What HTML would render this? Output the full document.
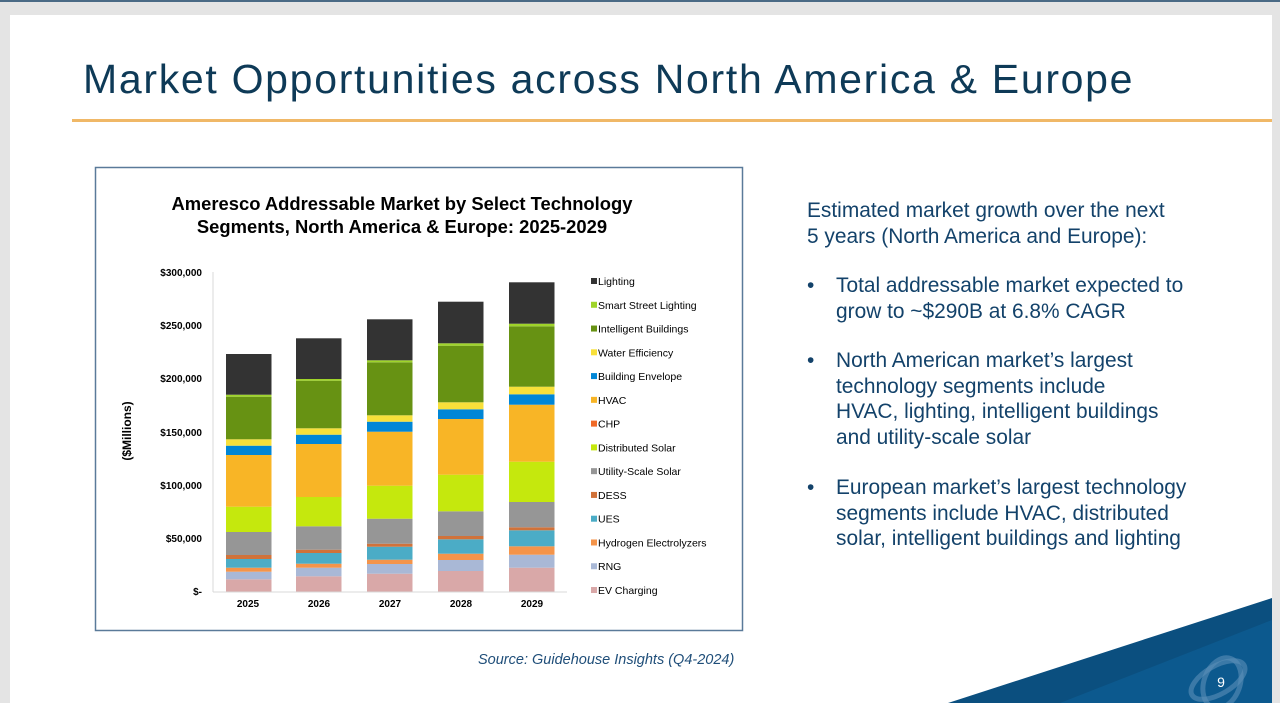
<!DOCTYPE html>
<html><head><meta charset="utf-8"><style>
body{margin:0;width:1280px;height:703px;background:#e4e4e4;position:relative;overflow:hidden;font-family:"Liberation Sans",sans-serif}
.slide{position:absolute;left:10px;top:15px;width:1262px;height:688px;background:#fff}
.t{position:absolute;white-space:nowrap}
.r{font-size:20.9px;line-height:25.6px;color:#13426a}
</style></head><body>
<div style="position:absolute;left:0;top:0;width:1280px;height:2px;background:#4a6a85"></div>
<div class="slide"></div>
<div class="t" style="left:83px;top:56px;font-size:41px;color:#0e3a57;letter-spacing:1.7px">Market Opportunities across North America &amp; Europe</div>
<div style="position:absolute;left:72px;top:119px;width:1200px;height:3px;background:#f0b867"></div>
<svg style="position:absolute;left:0;top:0" width="1280" height="703">
<polygon points="948,703 1272,598 1272,703" fill="#0b4f7f"/>
<polygon points="1060,703 1272,620 1272,703" fill="#0d5e94" opacity="0.7"/>
<ellipse cx="1218" cy="680" rx="30" ry="14" fill="none" stroke="#5c8fb8" stroke-width="5" opacity="0.6" transform="rotate(-30 1218 680)"/>
<ellipse cx="1222" cy="683" rx="18" ry="26" fill="none" stroke="#5c8fb8" stroke-width="5" opacity="0.6" transform="rotate(20 1222 683)"/>
<text x="1221" y="687" font-size="14" fill="#fff" text-anchor="middle" font-family="Liberation Sans">9</text>
<rect x="95.5" y="167.5" width="647" height="463" fill="#fff" stroke="#5a7a99" stroke-width="1.5"/>
<text x="402" y="210" font-size="18.4" font-weight="bold" text-anchor="middle" font-family="Liberation Sans">Ameresco Addressable Market by Select Technology</text>
<text x="402" y="233" font-size="18.4" font-weight="bold" text-anchor="middle" font-family="Liberation Sans">Segments, North America &amp; Europe: 2025-2029</text>
<text transform="translate(131,431) rotate(-90)" font-size="12" font-weight="bold" text-anchor="middle" font-family="Liberation Sans">($Millions)</text>
<g font-size="10" font-weight="bold" text-anchor="end" font-family="Liberation Sans">
<text x="202" y="276">$300,000</text><text x="202" y="329">$250,000</text><text x="202" y="382">$200,000</text><text x="202" y="436">$150,000</text><text x="202" y="489">$100,000</text><text x="202" y="542">$50,000</text><text x="202" y="595">$-</text>
</g>
<line x1="213" y1="272" x2="213" y2="592" stroke="#d9d9d9"/>
<line x1="213" y1="592" x2="567" y2="592" stroke="#d9d9d9"/>
<g id="bars"></g>
<g font-size="10" font-weight="bold" text-anchor="middle" font-family="Liberation Sans">
<text x="248" y="607">2025</text><text x="319" y="607">2026</text><text x="390" y="607">2027</text><text x="461" y="607">2028</text><text x="532" y="607">2029</text>
</g>
<g id="leg" font-size="10.5" font-family="Liberation Sans"></g>
</svg>
<div class="t r" style="left:807px;top:198px">Estimated market growth over the next<br>5 years (North America and Europe):</div>
<div class="t r" style="left:807px;top:273px">•</div>
<div class="t r" style="left:836px;top:273px">Total addressable market expected to<br>grow to ~$290B at 6.8% CAGR</div>
<div class="t r" style="left:807px;top:348px">•</div>
<div class="t r" style="left:836px;top:348px">North American market’s largest<br>technology segments include<br>HVAC, lighting, intelligent buildings<br>and utility-scale solar</div>
<div class="t r" style="left:807px;top:475px">•</div>
<div class="t r" style="left:836px;top:475px">European market’s largest technology<br>segments include HVAC, distributed<br>solar, intelligent buildings and lighting</div>
<div class="t" style="left:478px;top:652px;font-size:14.5px;font-style:italic;color:#1f4e79">Source: Guidehouse Insights (Q4-2024)</div>
<script>
var cols=["#d9a8a8","#a9b8d6","#f4944a","#4bacc6","#d0723a","#969696","#c5e80d","#f8b526","#0086d6","#f8e03a","#679213","#9fd42a","#333333"];
var tops=[
[579.3,571.7,567.7,559,555,532,506.7,455,445.7,439.3,396.7,394.7,354],
[576.3,567.7,563.7,553,549.7,526.3,497,444,434.7,428.3,380.7,379,338.3],
[573.7,564,559.7,546.7,543.7,518.7,485.7,431.7,421.7,415.3,362.3,360.3,319.3],
[571,560,553.7,539.3,536,511.3,474.7,419,409.3,402.3,345.7,343.3,301.7],
[567.7,554.7,546.3,530.3,527.3,502,461.7,404.7,394.3,386.7,326.3,323.7,282.3]];
var xs=[226,296,367,438,509],g=document.getElementById("bars"),h="";
tops.forEach(function(t,i){var prev=591.5;t.forEach(function(y,j){h+='<rect x="'+xs[i]+'" y="'+y+'" width="45.5" height="'+(prev-y)+'" fill="'+cols[j]+'"/>';prev=y;});});
g.innerHTML=h;
var leg=[["Lighting","#333333"],["Smart Street Lighting","#9fd42a"],["Intelligent Buildings","#679213"],["Water Efficiency","#f8e03a"],["Building Envelope","#0086d6"],["HVAC","#f8b526"],["CHP","#f06a28"],["Distributed Solar","#c5e80d"],["Utility-Scale Solar","#969696"],["DESS","#d0723a"],["UES","#4bacc6"],["Hydrogen Electrolyzers","#f4944a"],["RNG","#a9b8d6"],["EV Charging","#d9a8a8"]];
var l="";for(var k=0;k<14;k++){var y=285+k*23.77;l+='<rect x="591" y="'+(y-7)+'" width="6" height="6" fill="'+leg[k][1]+'"/><text x="598" y="'+y+'">'+leg[k][0]+'</text>';}
document.getElementById("leg").innerHTML=l;
</script>
</body></html>
